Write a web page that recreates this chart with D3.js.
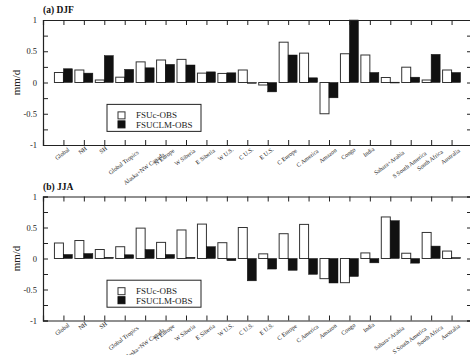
<!DOCTYPE html>
<html>
<head>
<meta charset="utf-8">
<script src="https://cdn.jsdelivr.net/npm/d3@7"></script>
<style>
  body { margin: 0; background: #fff; }
  svg, svg text { font-family: "Liberation Serif", "Times New Roman", serif; }
  svg { display: block; }
  .axis path, .axis line { stroke: #222; }
  .axis text { fill: #222; }
</style>
</head>
<body>
<svg id="chart" width="470" height="355"></svg>
<script>
const categories = ['Global', 'NH', 'SH', 'Global Tropics', 'Alaska+NW Canada', 'N Europe',
  'W Siberia', 'E Siberia', 'W U.S.', 'C U.S.', 'E U.S.', 'C Europe', 'C America', 'Amazon',
  'Congo', 'India', 'Sahara+Arabia', 'S South America', 'South Africa', 'Australia'];

// DJF differences (mm/d)
const djfFSUc   = [0.16, 0.20, 0.04, 0.085, 0.33, 0.36, 0.37, 0.15, 0.145, 0.20, -0.04, 0.645, 0.47, -0.50, 0.46, 0.44, 0.08, 0.245, 0.04, 0.20];
const djfFSUCLM = [0.22, 0.15, 0.43, 0.21, 0.235, 0.29, 0.28, 0.17, 0.155, -0.01, -0.15, 0.44, 0.075, -0.245, 1.0, 0.16, 0.005, 0.085, 0.45, 0.16];
// JJA differences (mm/d)
const jjaFSUc   = [0.25, 0.29, 0.145, 0.19, 0.49, 0.26, 0.46, 0.555, 0.255, 0.50, 0.075, 0.40, 0.55, -0.325, -0.39, 0.09, 0.67, 0.085, 0.42, 0.12];
const jjaFSUCLM = [0.065, 0.08, 0.02, 0.06, 0.145, 0.065, 0.02, 0.19, -0.035, -0.36, -0.17, -0.19, -0.255, -0.395, -0.29, -0.07, 0.61, -0.075, 0.20, 0.015];

const yTicks = [-1, -0.75, -0.5, -0.25, 0, 0.25, 0.5, 0.75, 1];
const yLabels = ['-1', '-0.5', '0', '0.5', '1'];
const seriesNames = ['FSUc-OBS', 'FSUCLM-OBS'];

const svg = d3.select('#chart');
const left = 43, right = 472;
const barW = 0.44;

const x = d3.scaleLinear().domain([0, categories.length + 1]).range([left, right]);
const tickIdx = categories.map((c, i) => i + 1);

function drawPanel(title, cVals, clmVals, top, bottom) {
  const y = d3.scaleLinear().domain([-1, 1]).range([bottom, top]);
  const g = svg.append('g');

  // bars
  const rows = categories.map((c, i) => ({ i: i + 1, c: cVals[i], m: clmVals[i] }));
  g.selectAll('.barc').data(rows).enter().append('rect')
    .attr('x', d => x(d.i - barW))
    .attr('width', x(barW) - x(0))
    .attr('y', d => y(Math.max(0, d.c)))
    .attr('height', d => Math.abs(y(d.c) - y(0)))
    .attr('fill', '#fff').attr('stroke', '#333').attr('stroke-width', 1);
  g.selectAll('.barm').data(rows).enter().append('rect')
    .attr('x', d => x(d.i))
    .attr('width', x(barW) - x(0))
    .attr('y', d => y(Math.max(0, d.m)))
    .attr('height', d => Math.max(0.8, Math.abs(y(d.m) - y(0))))
    .attr('fill', '#111').attr('stroke', '#111').attr('stroke-width', 0.5);

  // axes, ticks point inward
  const fmt = v => (yLabels.includes(String(v)) ? String(v) : '');
  g.append('g').attr('class', 'axis').attr('transform', `translate(${left},0)`)
    .call(d3.axisLeft(y).tickValues(yTicks).tickSize(-5).tickPadding(6).tickFormat(fmt))
    .call(a => a.selectAll('text').style('font-size', '8.5px'));
  g.append('g').attr('class', 'axis').attr('transform', `translate(${right},0)`)
    .call(d3.axisRight(y).tickValues(yTicks).tickSize(-5).tickFormat(''));
  g.append('g').attr('class', 'axis').attr('transform', `translate(0,${top})`)
    .call(d3.axisTop(x).tickValues(tickIdx).tickSize(-5).tickFormat(''));
  const gx = g.append('g').attr('class', 'axis').attr('transform', `translate(0,${bottom})`)
    .call(d3.axisBottom(x).tickValues(tickIdx).tickSize(-5).tickFormat(''));
  g.selectAll('.axis path').attr('stroke-width', 1.2);

  // rotated category labels, centred under each tick
  gx.selectAll('.catlab').data(categories).enter().append('text')
    .attr('class', 'catlab')
    .style('font-size', '6px').attr('fill', '#444')
    .attr('text-anchor', 'middle')
    .text(d => d)
    .attr('transform', function (d, i) {
      const L = this.getComputedTextLength();
      return `translate(${x(i + 1)},${3 + 0.45 * L}) rotate(-37)`;
    });

  svg.append('text').attr('x', left).attr('y', top - 7)
    .style('font-size', '9.5px').style('font-weight', 'bold').attr('fill', '#111')
    .text(title);

  svg.append('text').attr('transform', `translate(20,${y(0)}) rotate(-90)`)
    .attr('text-anchor', 'middle').style('font-size', '11px').attr('fill', '#222')
    .text('mm/d');

  // legend
  const lg = svg.append('g').attr('transform', `translate(107,${y(-0.35)})`);
  lg.append('rect').attr('width', 94).attr('height', 27)
    .attr('fill', '#fff').attr('stroke', '#222').attr('stroke-width', 1);
  seriesNames.forEach((s, k) => {
    lg.append('rect').attr('x', 11).attr('y', 7.5 + k * 9).attr('width', 7).attr('height', 7)
      .attr('fill', k ? '#111' : '#fff').attr('stroke', k ? '#111' : '#333');
    lg.append('text').attr('x', 29).attr('y', 14 + k * 9.5)
      .style('font-size', '9px').attr('fill', '#222').text(s);
  });
}

drawPanel('(a) DJF', djfFSUc, djfFSUCLM, 20, 145);
drawPanel('(b) JJA', jjaFSUc, jjaFSUCLM, 196.5, 320.5);
</script>
</body>
</html>
